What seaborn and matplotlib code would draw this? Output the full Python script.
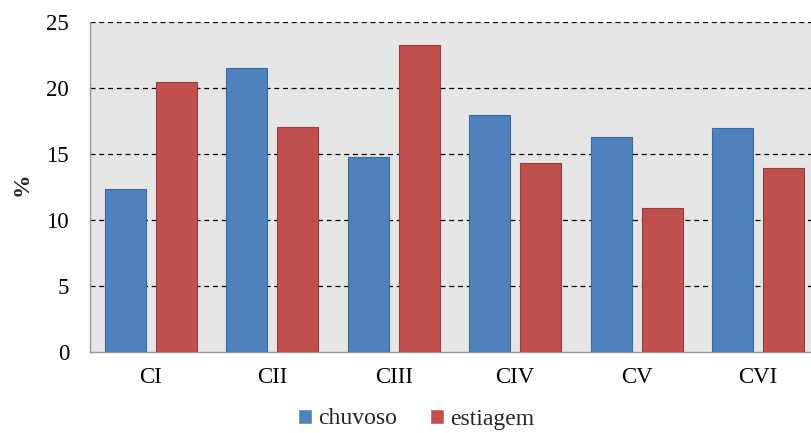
import matplotlib
matplotlib.use("Agg")
import matplotlib.pyplot as plt
import seaborn as sns
import pandas as pd

categories = ["CI", "CII", "CIII", "CIV", "CV", "CVI"]
chuvoso = [12.35, 21.5, 14.75, 17.95, 16.3, 16.97]
estiagem = [20.45, 17.05, 23.25, 14.3, 10.9, 13.95]
series_names = ["chuvoso", "estiagem"]
y_ticks = [0, 5, 10, 15, 20, 25]

df = pd.DataFrame({
    "categoria": categories * 2,
    "valor": chuvoso + estiagem,
    "periodo": [series_names[0]] * len(categories) + [series_names[1]] * len(categories),
})

sns.set_theme(style="white")
plt.rcParams["font.family"] = ["Liberation Serif", "DejaVu Serif"]

fig = plt.figure(figsize=(8.12, 4.33), dpi=100)
ax = fig.add_axes([90 / 812, 1 - 352 / 433, 729 / 812, 330 / 433])
ax.set_facecolor("#E6E6E6")

palette = {"chuvoso": "#4F81BD", "estiagem": "#C0504D"}
sns.barplot(data=df, x="categoria", y="valor", hue="periodo", palette=palette,
            width=0.84, gap=0.2, saturation=1, ax=ax, zorder=3, legend=True)

for i, container in enumerate(ax.containers):
    ec = ["#3B6A9E", "#9A3C3A"][i]
    for bar in container:
        bar.set_edgecolor(ec)
        bar.set_linewidth(0.8)

ax.set_ylim(0, 25)
ax.set_yticks(y_ticks)
ax.set_xlim(-0.5, len(categories) - 0.5)
for y in y_ticks[1:]:
    ax.axhline(y, color="black", linestyle=(0, (4, 3)), linewidth=0.9, zorder=1)

for s in ["top", "right"]:
    ax.spines[s].set_visible(False)
for s in ["left", "bottom"]:
    ax.spines[s].set_color("#999999")
    ax.spines[s].set_linewidth(1.0)

ax.tick_params(axis="both", length=0, labelsize=16.5, colors="black")
ax.tick_params(axis="y", pad=15)
ax.tick_params(axis="x", pad=11)
ax.set_xlabel("")
ax.set_ylabel("%", fontsize=17, fontweight="bold")
ax.yaxis.set_label_coords(-0.079, 0.51)

handles, labels = ax.get_legend_handles_labels()
ax.get_legend().remove()
fig.legend(handles, labels, loc="center", bbox_to_anchor=(416 / 812, 1 - 419 / 433),
           ncol=2, frameon=False, fontsize=17, handlelength=0.6, handleheight=0.6,
           handletextpad=0.25, columnspacing=1.4, borderpad=0)

fig.savefig("out.png", dpi=100)
